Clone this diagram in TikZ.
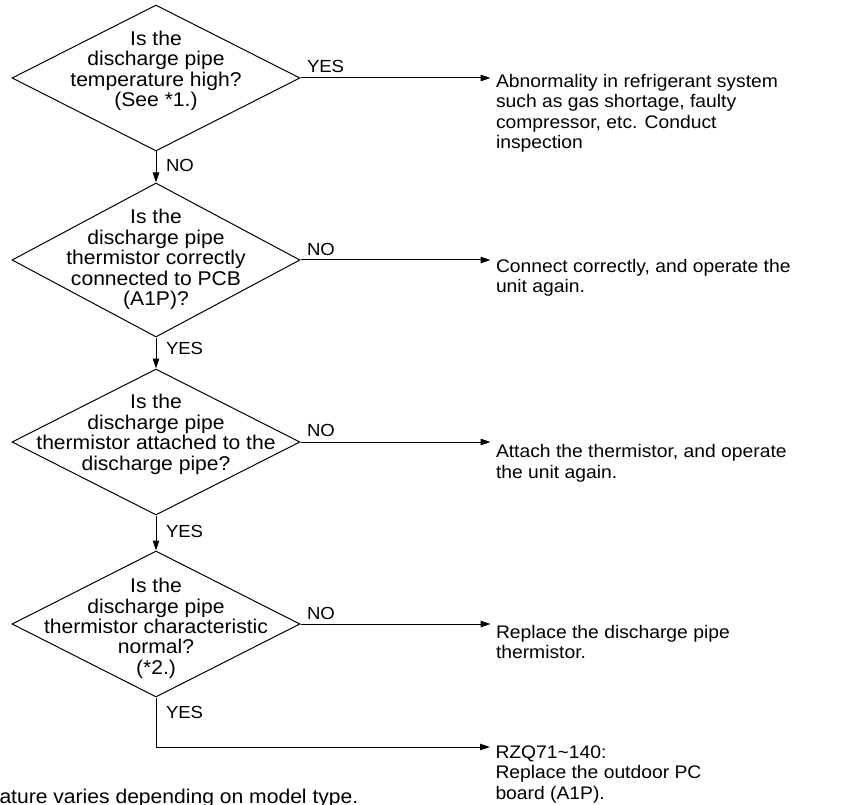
\documentclass[tikz,border=0pt]{standalone}
\usepackage{fontspec}
\setmainfont[FakeStretch=1.06]{Liberation Sans}
\usetikzlibrary{shapes.geometric, arrows.meta, positioning}

\begin{document}
\begin{tikzpicture}[x=1pt, y=1pt, node distance=182pt, line width=1pt,
    decision/.style={diamond, draw, minimum width=288pt, minimum height=146pt, inner sep=0pt},
    question/.style={align=center, inner sep=0pt, anchor=north, font=\fontsize{19.9}{20.4}\selectfont},
    action/.style={align=left, inner sep=0pt, anchor=north west, font=\fontsize{18.2}{20.5}\selectfont},
    answer/.style={inner sep=0pt, anchor=base west, font=\fontsize{17.5}{18}\selectfont},
    note/.style={inner sep=0pt, anchor=base west, font=\fontsize{19.9}{20.4}\selectfont},
    flow/.style={-{Triangle[length=10pt, width=6.5pt]}}]

            \useasboundingbox (0,0) rectangle (849,-805);

            % --- Decisions ---
            \node[decision] (D1) at (156,-78) {};
            \node[decision, minimum height=154pt] (D2) [below of = D1] {};
            \node[decision] (D3) [below of = D2] {};
            \node[decision] (D4) [below of = D3] {};

            \node[question] (Q1) at ([yshift=47.4pt]D1.center) {Is the\\discharge pipe\\temperature high?\\(See *1.)};
            \node[question] (Q2) at ([yshift=51.1pt]D2.center) {Is the\\discharge pipe\\thermistor correctly\\connected to PCB\\(A1P)?};
            \node[question] (Q3) at ([yshift=48.1pt]D3.center) {Is the\\discharge pipe\\thermistor attached to the\\discharge pipe?};
            \node[question] (Q4) at ([yshift=46.2pt]D4.center) {Is the\\discharge pipe\\thermistor characteristic\\normal?\\(*2.)};

            % --- Actions ---
            \coordinate (T1) at ([xshift=190pt]D1.east);
            \coordinate (T2) at ([xshift=190pt]D2.east);
            \coordinate (T3) at ([xshift=190pt]D3.east);
            \coordinate (T4) at ([xshift=190pt]D4.east);
            \coordinate (T5) at (490,-747);

            \node[action] (A1) at ([xshift=5pt, yshift=4.5pt]T1) {Abnormality in refrigerant system\\such as gas shortage, faulty\\compressor, etc. Conduct\\inspection};
            \node[action] (A2) at ([xshift=5pt, yshift=1.2pt]T2) {Connect correctly, and operate the\\unit again.};
            \node[action] (A3) at ([xshift=5pt, yshift=-2pt]T3) {Attach the thermistor, and operate\\the unit again.};
            \node[action] (A4) at ([xshift=5pt, yshift=-0.8pt]T4) {Replace the discharge pipe\\thermistor.};
            \node[action] (A5) at ([xshift=5pt, yshift=1.9pt]T5) {RZQ71\textasciitilde 140:\\Replace the outdoor PC\\board (A1P).};

            % --- Connections ---
            \draw[flow] (D1.south) -- (D2.north);
            \draw[flow] (D2.south) -- (D3.north);
            \draw[flow] (D3.south) -- (D4.north);
            \draw[flow] (D4.south) |- (T5);

            \draw[flow] (D1.east) -- (T1);
            \draw[flow] (D2.east) -- (T2);
            \draw[flow] (D3.east) -- (T3);
            \draw[flow] (D4.east) -- (T4);

            % --- Answers ---
            \node[answer] (Y1) at ([xshift=6pt, yshift=5pt]D1.east) {YES};
            \node[answer] (N1) at ([xshift=9.5pt, yshift=-20.3pt]D1.south) {NO};
            \node[answer] (N2) at ([xshift=6pt, yshift=4pt]D2.east) {NO};
            \node[answer] (Y2) at ([xshift=9.5pt, yshift=-17pt]D2.south) {YES};
            \node[answer] (N3) at ([xshift=6pt, yshift=6pt]D3.east) {NO};
            \node[answer] (Y3) at ([xshift=9.5pt, yshift=-21.7pt]D3.south) {YES};
            \node[answer] (N4) at ([xshift=6pt, yshift=4.5pt]D4.east) {NO};
            \node[answer] (Y4) at ([xshift=9.5pt, yshift=-20.7pt]D4.south) {YES};

            \node[note] (F1) at (-1,-803) {ature varies depending on model type.};
        \end{tikzpicture}
\end{document}
